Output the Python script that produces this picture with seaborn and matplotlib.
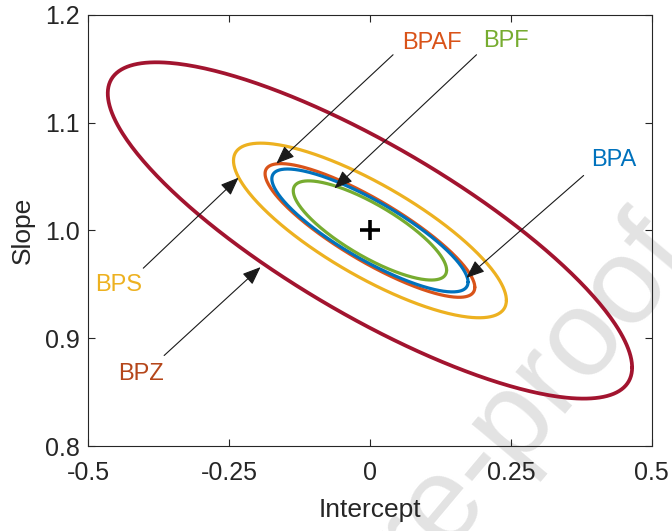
import numpy as np
import pandas as pd
import matplotlib
matplotlib.use("Agg")
import matplotlib.pyplot as plt
import seaborn as sns

# confidence regions for (intercept, slope), centred on the true values
methods = ["BPZ", "BPS", "BPAF", "BPA", "BPF"]
half_int = [0.465, 0.242, 0.186, 0.174, 0.136]    # half extent along intercept
half_slope = [0.156, 0.081, 0.062, 0.057, 0.046]  # half extent along slope
rho = [-0.815, -0.80, -0.85, -0.84, -0.80]        # correlation
centre = (0.0, 1.0)

line_colors = {"BPZ": "#A2142F", "BPS": "#EDB120", "BPAF": "#D95319",
               "BPA": "#0072BD", "BPF": "#77AC30"}
text_colors = {"BPZ": "#B5461A", "BPS": "#EDB120", "BPAF": "#D95319",
               "BPA": "#0072BD", "BPF": "#77AC30"}

# labels: text position, arrow start, arrow tip
lab_xy = {"BPAF": (0.110, 1.174), "BPF": (0.242, 1.176), "BPA": (0.432, 1.065),
          "BPS": (-0.446, 0.949), "BPZ": (-0.406, 0.867)}
arr_from = {"BPAF": (0.041, 1.163), "BPF": (0.189, 1.163), "BPA": (0.379, 1.051),
            "BPS": (-0.402, 0.965), "BPZ": (-0.365, 0.884)}
arr_to = {"BPAF": (-0.166, 1.062), "BPF": (-0.063, 1.039), "BPA": (0.171, 0.956),
          "BPS": (-0.233, 1.049), "BPZ": (-0.194, 0.966)}

xticks = [-0.5, -0.25, 0, 0.25, 0.5]
xticklabels = ["-0.5", "-0.25", "0", "0.25", "0.5"]
yticks = [0.8, 0.9, 1.0, 1.1, 1.2]
yticklabels = ["0.8", "0.9", "1.0", "1.1", "1.2"]

sns.set_theme(style="ticks")
plt.rcParams["font.family"] = ["Liberation Sans", "DejaVu Sans"]

# ellipse outlines from the region parameters
t = np.linspace(0, 2 * np.pi, 400)
rows = []
for m, a, b, r in zip(methods, half_int, half_slope, rho):
    xs = centre[0] + a * np.cos(t)
    ys = centre[1] + b * (r * np.cos(t) - np.sqrt(1 - r ** 2) * np.sin(t))
    rows.append(pd.DataFrame({"Intercept": xs, "Slope": ys, "method": m}))
df = pd.concat(rows, ignore_index=True)

fig = plt.figure(figsize=(6.72, 5.31), dpi=100)
ax = fig.add_axes([0.131, 0.160, 0.839, 0.812])
ax.set_facecolor("none")

# faint watermark behind the plot
fig.text(1.036, 0.514, "Journal Pre-proof", fontsize=88, color="#e3e3e3",
         rotation=50, rotation_mode="anchor", ha="right", va="baseline",
         zorder=-5)

sns.lineplot(data=df, x="Intercept", y="Slope", hue="method", palette=line_colors,
             sort=False, estimator=None, units="method", legend=False, ax=ax,
             linewidth=2.3)
for ln in ax.get_lines():
    ln.set_solid_capstyle("round")
ax.get_lines()[0].set_linewidth(2.7)

ax.plot(*centre, marker="+", color="black", markersize=15, mew=2.6)

for m in methods:
    ax.annotate("", xy=arr_to[m], xytext=arr_from[m],
                arrowprops=dict(arrowstyle="-|>,head_length=0.8,head_width=0.32",
                                color="#1a1a1a", lw=0.8, mutation_scale=14,
                                shrinkA=0, shrinkB=0))
    ax.text(*lab_xy[m], m, color=text_colors[m], fontsize=17,
            ha="center", va="center")

ax.set_xlim(-0.5, 0.5)
ax.set_ylim(0.8, 1.2)
ax.set_xticks(xticks)
ax.set_xticklabels(xticklabels)
ax.set_yticks(yticks)
ax.set_yticklabels(yticklabels)
ax.tick_params(direction="in", top=True, right=True, length=5, width=0.8,
               labelsize=18, colors="#262626")
ax.tick_params(axis="x", pad=11)
ax.tick_params(axis="y", pad=6)
ax.set_xlabel("Intercept", fontsize=19, color="#262626", labelpad=9)
ax.set_ylabel("Slope", fontsize=19, color="#262626", labelpad=7)
for s in ax.spines.values():
    s.set_color("#262626")
    s.set_linewidth(0.8)

fig.savefig("out.png", dpi=100, facecolor="white")
